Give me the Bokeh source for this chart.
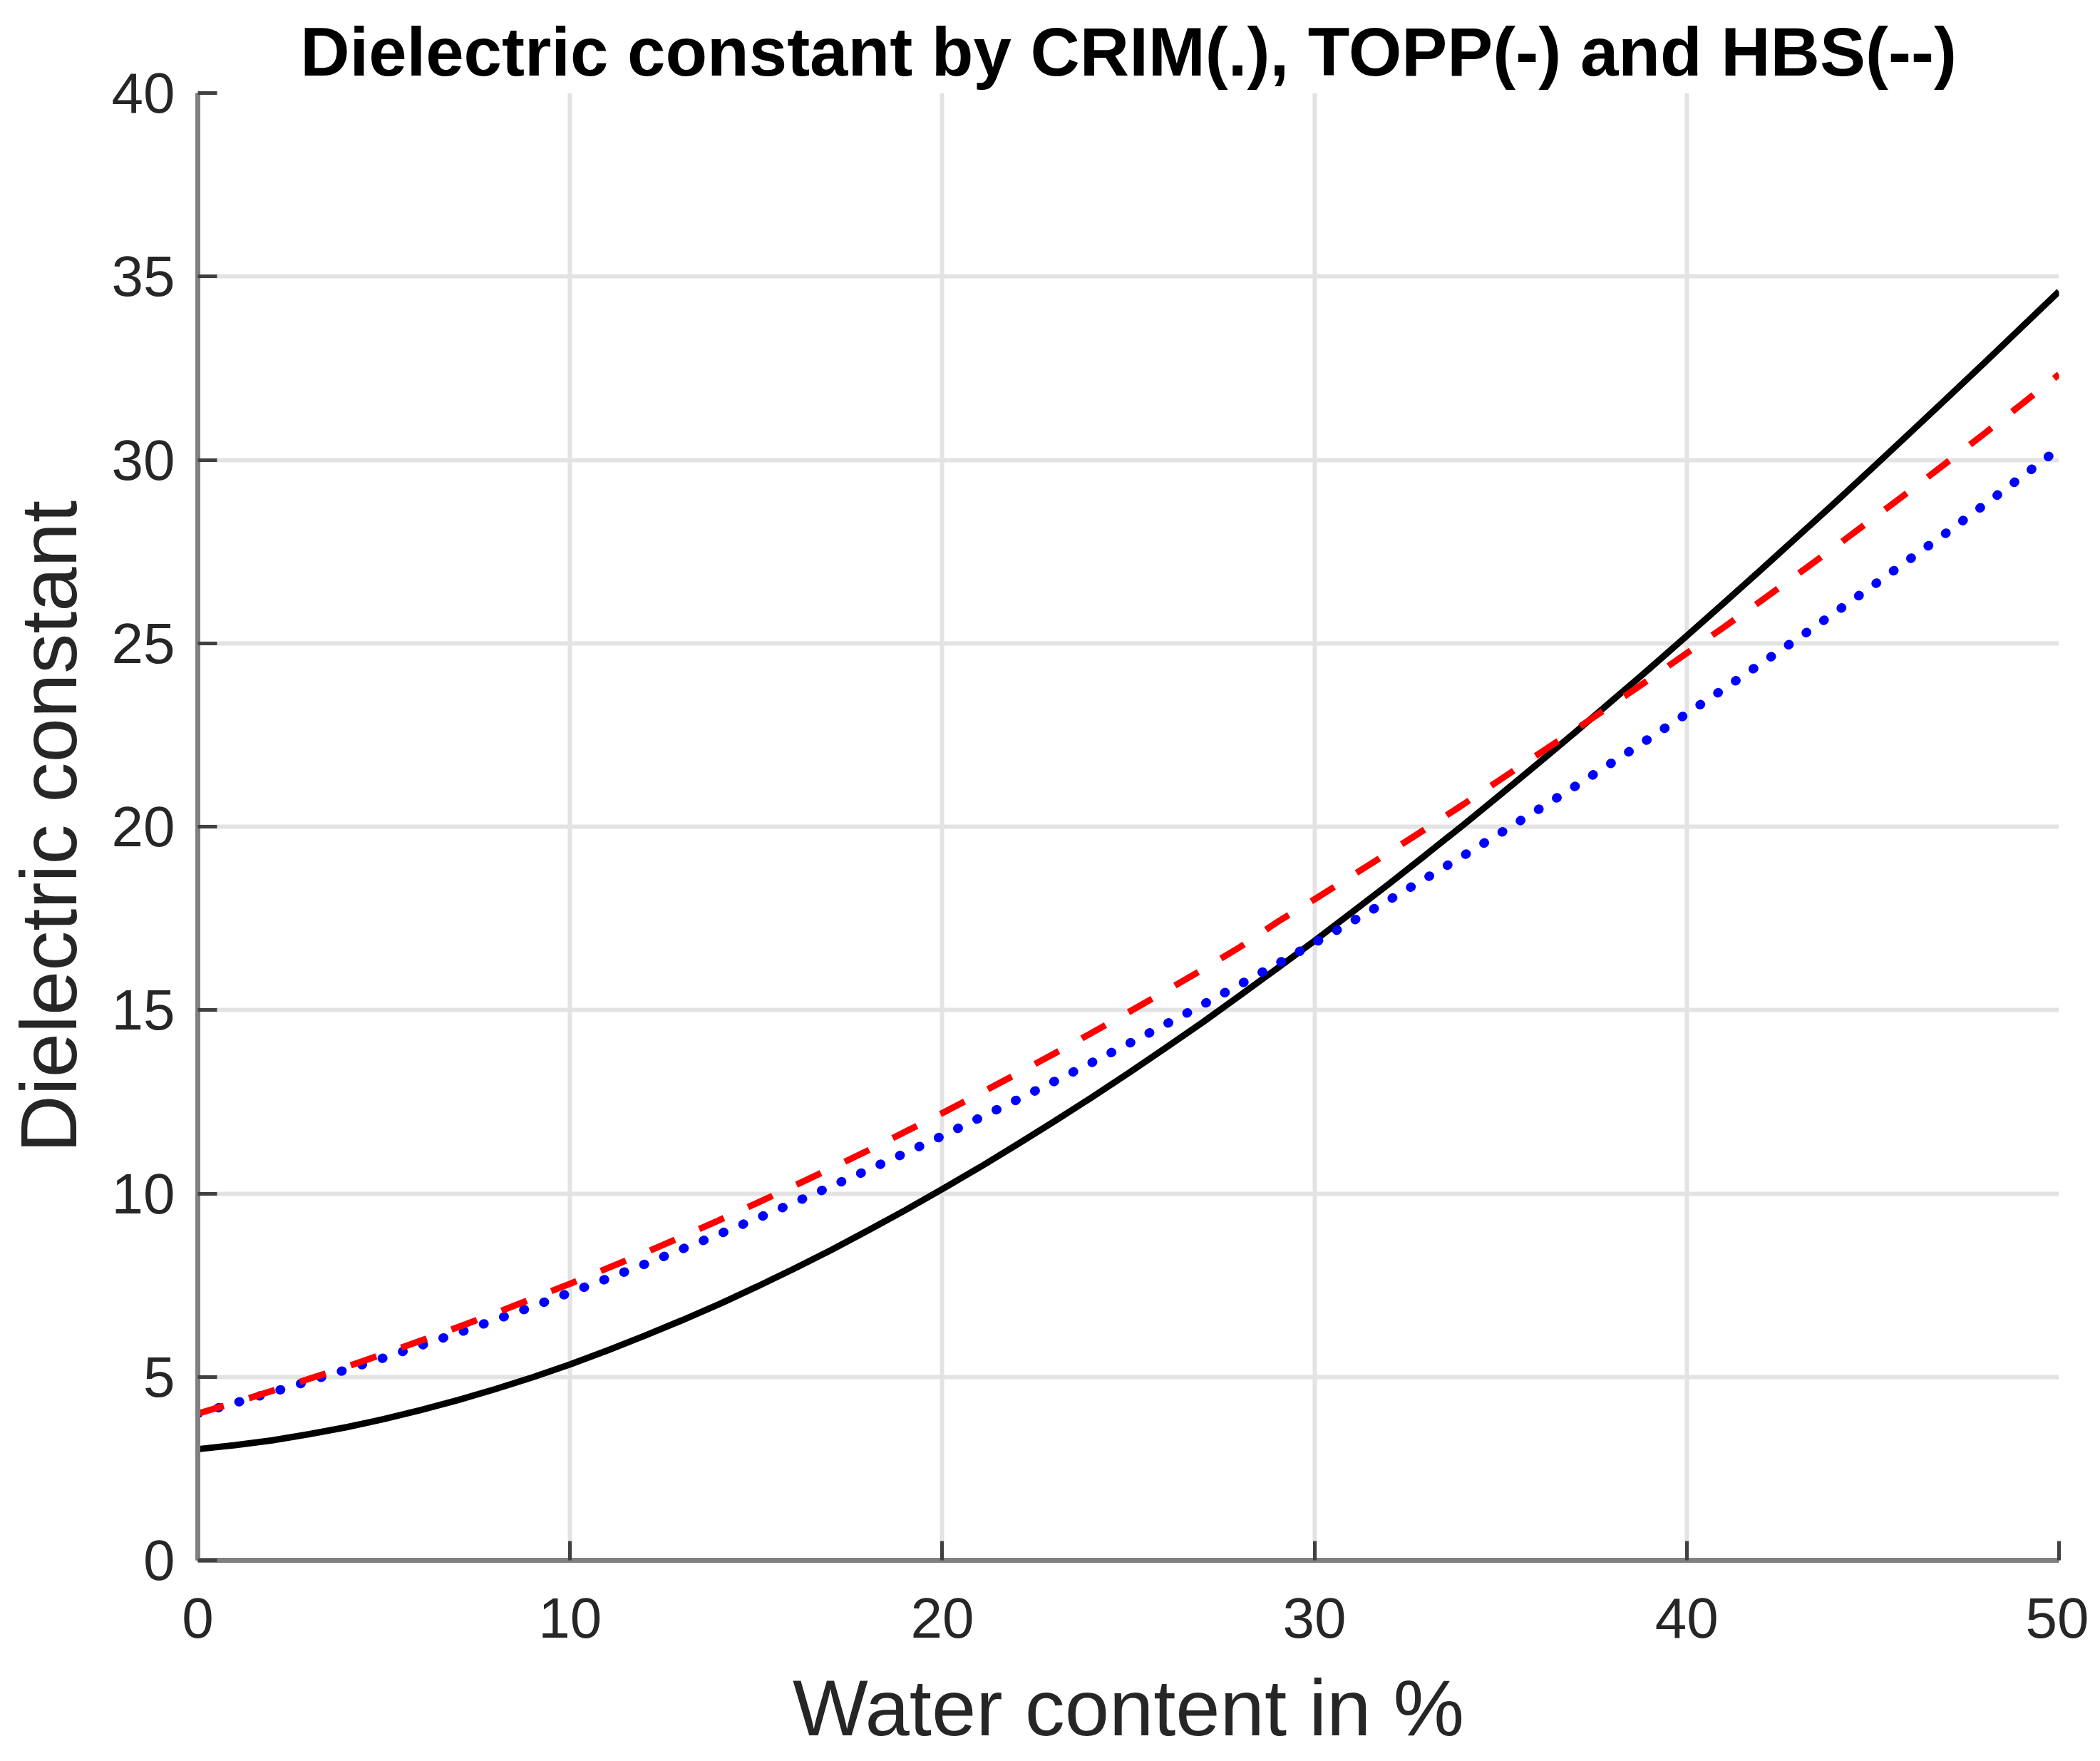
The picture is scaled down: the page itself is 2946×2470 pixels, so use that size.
from bokeh.plotting import figure
from bokeh.models import Range1d, FixedTicker, Div
from bokeh.layouts import column
from bokeh.embed import file_html
from bokeh.resources import INLINE

# Data (water content in %, 1 % steps)
water_content = list(range(0, 51))
topp = [3.03, 3.14, 3.27, 3.44, 3.63, 3.85, 4.10, 4.37, 4.67, 4.99,
        5.34, 5.72, 6.12, 6.54, 6.98, 7.45, 7.94, 8.45, 8.99, 9.54,
        10.12, 10.71, 11.33, 11.96, 12.61, 13.28, 13.97, 14.67, 15.40, 16.14,
        16.89, 17.66, 18.44, 19.24, 20.05, 20.88, 21.72, 22.57, 23.44, 24.31,
        25.20, 26.10, 27.01, 27.93, 28.85, 29.79, 30.74, 31.69, 32.65, 33.62,
        34.59]
crim = [4.00, 4.29, 4.58, 4.89, 5.20, 5.52, 5.86, 6.20, 6.56, 6.92,
        7.30, 7.68, 8.07, 8.48, 8.89, 9.31, 9.74, 10.19, 10.64, 11.10,
        11.57, 12.06, 12.55, 13.05, 13.56, 14.08, 14.61, 15.15, 15.70, 16.26,
        16.83, 17.41, 18.00, 18.60, 19.21, 19.83, 20.46, 21.10, 21.75, 22.41,
        23.08, 23.76, 24.45, 25.14, 25.85, 26.57, 27.30, 28.03, 28.78, 29.54,
        30.31]
hbs = [4.00, 4.30, 4.62, 4.95, 5.28, 5.63, 5.99, 6.36, 6.74, 7.14,
       7.54, 7.96, 8.38, 8.82, 9.27, 9.73, 10.20, 10.68, 11.17, 11.68,
       12.19, 12.72, 13.26, 13.81, 14.37, 14.94, 15.52, 16.11, 16.72, 17.40,
       18.02, 18.66, 19.30, 19.95, 20.61, 21.29, 21.97, 22.64, 23.33, 24.02,
       24.73, 25.44, 26.16, 26.90, 27.64, 28.40, 29.16, 29.94, 30.72, 31.52,
       32.33]

x_ticks = [0, 10, 20, 30, 40, 50]
y_ticks = [0, 5, 10, 15, 20, 25, 30, 35, 40]

FONT = "Liberation Sans"

p = figure(width=2930, height=2340, output_backend="svg", toolbar_location=None,
           x_range=Range1d(0, 50), y_range=Range1d(0, 40),
           title="Dielectric constant by CRIM(.), TOPP(-) and HBS(--)",
           min_border_left=277, min_border_right=42, min_border_top=130,
           min_border_bottom=152)
p.outline_line_color = None
p.background_fill_color = "white"
p.border_fill_color = "white"

p.title.text_font = FONT
p.title.text_font_size = "96px"
p.title.text_font_style = "bold"
p.title.text_color = "black"
p.title.align = "center"
p.title.standoff = 10

p.xaxis.ticker = FixedTicker(ticks=x_ticks)
p.yaxis.ticker = FixedTicker(ticks=y_ticks)

for ax in (p.xaxis, p.yaxis):
    ax.axis_line_color = "#808080"
    ax.axis_line_width = 7
    ax.major_tick_line_color = "#404040"
    ax.major_tick_line_width = 5
    ax.major_tick_in = 27
    ax.major_tick_out = 0
    ax.minor_tick_line_color = None
    ax.major_label_text_font = FONT
    ax.major_label_text_font_size = "80px"
    ax.major_label_text_color = "#262626"
    ax.axis_label_text_font = FONT
    ax.axis_label_text_font_size = "112px"
    ax.axis_label_text_font_style = "normal"
    ax.axis_label_text_color = "#262626"

p.yaxis.axis_label = "Dielectric constant"
p.xaxis.major_label_standoff = 53
p.yaxis.major_label_standoff = 32
p.yaxis.axis_label_standoff = 23

for g in (p.xgrid, p.ygrid):
    g.grid_line_color = "#e3e3e3"
    g.grid_line_width = 6
p.xgrid.ticker = FixedTicker(ticks=x_ticks)
p.ygrid.ticker = FixedTicker(ticks=y_ticks)

p.line(water_content, topp, line_color="black", line_width=9)
p.line(water_content, crim, line_color="#0000ff", line_width=13,
       line_dash="1 29", line_cap="round")
p.line(water_content, hbs, line_color="#ff0000", line_width=9,
       line_dash="38 37")

# x axis title, centred under the plot frame
xlabel = Div(text="Water content in %", width=2612, height=112,
             margin=(0, 0, 0, 277),
             styles={"font-family": FONT, "font-size": "112px",
                     "color": "#262626", "text-align": "center",
                     "line-height": "1", "white-space": "nowrap"})

layout = column(p, xlabel, spacing=0)

open("out.html", "w").write(file_html(layout, INLINE))
